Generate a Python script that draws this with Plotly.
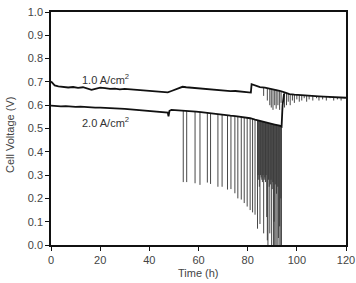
import numpy as np
import plotly.graph_objects as go

# ---- 1.0 A/cm2 curve ----
t1 = [0, 0.5, 1.5, 3, 5, 7, 9, 11, 13, 15,
      16.5, 18, 20, 22, 24, 26, 28, 30, 32, 34,
      36, 38, 40, 42, 44, 46, 47.5, 49, 50.5, 52,
      53.5, 55, 57, 59, 61, 63, 65, 67, 69, 71,
      73, 75, 77, 79, 81, 81.3, 81.6, 83, 85, 87,
      89, 91, 93, 95, 97, 99, 101, 103, 105, 107,
      109, 111, 113, 115, 117, 119, 120]
v1 = [0.702, 0.695, 0.685, 0.681, 0.679, 0.676, 0.678, 0.674, 0.677, 0.672,
      0.666, 0.670, 0.675, 0.673, 0.670, 0.671, 0.668, 0.670, 0.668, 0.666,
      0.664, 0.662, 0.660, 0.661, 0.658, 0.656, 0.655, 0.661, 0.668, 0.674,
      0.679, 0.677, 0.675, 0.673, 0.671, 0.669, 0.668, 0.665, 0.664, 0.662,
      0.660, 0.661, 0.659, 0.657, 0.655, 0.654, 0.690, 0.684, 0.678, 0.675,
      0.671, 0.668, 0.662, 0.655, 0.648, 0.645, 0.643, 0.641, 0.640, 0.639,
      0.638, 0.637, 0.636, 0.636, 0.634, 0.633, 0.632]

# spikes on 1.0 A/cm2 curve (time, minimum voltage)
s1_t = [86.5, 88, 89, 89.6, 90.3, 91, 91.6, 92.3, 93, 93.6,
        95, 95.8, 96.5, 97.3, 98.2, 99, 100, 101, 102, 103,
        104, 105, 106.5, 108, 109, 110.5, 112, 113.5, 115, 116.5,
        118, 119.5]
s1_v = [0.64, 0.62, 0.60, 0.59, 0.58, 0.60, 0.585, 0.60, 0.58, 0.61,
        0.59, 0.60, 0.615, 0.60, 0.62, 0.61, 0.625, 0.615, 0.62, 0.63,
        0.615, 0.625, 0.62, 0.63, 0.62, 0.625, 0.62, 0.63, 0.62, 0.625,
        0.62, 0.63]

# ---- 2.0 A/cm2 curve ----
t2 = [0, 2, 4, 6, 8, 10, 12, 14, 16, 18,
      20, 22, 24, 26, 28, 30, 32, 34, 36, 38,
      40, 42, 44, 46, 47.5, 47.8, 48.2, 49, 51, 53,
      55, 57, 59, 61, 63, 65, 67, 69, 71, 73,
      75, 77, 79, 81, 83, 85, 87, 89, 91, 93,
      93.8, 94.2, 94.8]
v2 = [0.598, 0.596, 0.595, 0.596, 0.594, 0.593, 0.594, 0.592, 0.591, 0.590,
      0.590, 0.588, 0.587, 0.587, 0.585, 0.584, 0.582, 0.581, 0.579, 0.578,
      0.576, 0.575, 0.573, 0.571, 0.568, 0.552, 0.576, 0.580, 0.579, 0.578,
      0.576, 0.574, 0.572, 0.570, 0.567, 0.565, 0.562, 0.560, 0.557, 0.555,
      0.553, 0.551, 0.548, 0.544, 0.538, 0.532, 0.527, 0.522, 0.517, 0.512,
      0.508, 0.600, 0.650]

# spikes on 2.0 A/cm2 curve (time, minimum voltage)
s2_t = [53.8, 55.2, 58.6, 60.6, 63.6, 64.9, 67.9, 69.6, 71.8, 73.2,
        74.8, 76.0, 77.4, 78.6, 79.8, 81.0, 82.0, 83.0,
        84.0, 84.25, 84.5, 84.75, 85.0, 85.25, 85.5, 85.75, 86.0, 86.25,
        86.5, 86.75, 87.0, 87.25, 87.5, 87.75, 88.0, 88.25, 88.5, 88.75,
        89.0, 89.25, 89.5, 89.75, 90.0, 90.25, 90.5, 90.75, 91.0, 91.25,
        91.5, 91.75, 92.0, 92.25, 92.5, 92.75, 93.0, 93.25, 93.5, 93.75]
s2_v = [0.27, 0.27, 0.265, 0.258, 0.268, 0.262, 0.25, 0.25, 0.238, 0.24,
        0.222, 0.20, 0.195, 0.18, 0.165, 0.15, 0.14, 0.13,
        0.07, 0.30, 0.28, 0.25, 0.09, 0.30, 0.29, 0.28, 0.27, 0.30,
        0.05, 0.28, 0.29, 0.27, 0.30, 0.12, 0.02, 0.0, 0.28, 0.25,
        0.05, 0.26, 0.28, 0.0, 0.24, 0.27, 0.0, 0.10, 0.0, 0.26,
        0.0, 0.22, 0.0, 0.25, 0.03, 0.0, 0.08, 0.0, 0.20, 0.0]

x_ticks = [0, 20, 40, 60, 80, 100, 120]
y_ticks = [0.0, 0.1, 0.2, 0.3, 0.4, 0.5, 0.6, 0.7, 0.8, 0.9, 1.0]
labels = ["1.0 A/cm<sup>2</sup>", "2.0 A/cm<sup>2</sup>"]
x_title = "Time (h)"
y_title = "Cell Voltage (V)"


def spike_segments(st, sv, bt, bv):
    xs, ys = [], []
    tops = np.interp(st, bt, bv)
    for t, v, top in zip(st, sv, tops):
        xs += [t, t, None]
        ys += [top, v, None]
    return xs, ys


fig = go.Figure()
sx2, sy2 = spike_segments(s2_t, s2_v, t2, v2)
sx1, sy1 = spike_segments(s1_t, s1_v, t1, v1)
fig.add_trace(go.Scatter(x=sx2, y=sy2, mode="lines",
                         line=dict(color="#333", width=0.9), hoverinfo="skip"))
fig.add_trace(go.Scatter(x=sx1, y=sy1, mode="lines",
                         line=dict(color="#333", width=0.9), hoverinfo="skip"))
fig.add_trace(go.Scatter(x=t2, y=v2, mode="lines",
                         line=dict(color="#111", width=1.8)))
fig.add_trace(go.Scatter(x=t1, y=v1, mode="lines",
                         line=dict(color="#111", width=1.8)))

font_fam = "Liberation Sans, Arial, sans-serif"
fig.add_annotation(x=22, y=0.712, text=labels[0], showarrow=False,
                   font=dict(family=font_fam, size=11, color="#333"))
fig.add_annotation(x=22, y=0.528, text=labels[1], showarrow=False,
                   font=dict(family=font_fam, size=11, color="#333"))
fig.add_annotation(xref="paper", yref="paper", x=0.5, y=0, yanchor="middle",
                   yshift=-28, text=x_title, showarrow=False,
                   font=dict(family=font_fam, size=11, color="#444"))
fig.add_annotation(xref="paper", yref="paper", x=0, y=0.472,
                   xanchor="center", yanchor="middle", xshift=-41,
                   textangle=-90, text=y_title, showarrow=False,
                   font=dict(family=font_fam, size=11, color="#444"))

fig.update_layout(
    width=356, height=283,
    margin=dict(l=51, r=10, t=12, b=38, autoexpand=False),
    paper_bgcolor="white", plot_bgcolor="white",
    showlegend=False,
    font=dict(family=font_fam, size=11, color="#444"),
)
fig.update_xaxes(range=[0, 120], tickvals=x_ticks,
                 ticktext=[str(v) for v in x_ticks],
                 tickfont=dict(size=11, color="#444"), automargin=False,
                 showgrid=False, zeroline=False, showline=True, mirror=True,
                 linecolor="#111", linewidth=1.5, ticks="outside", ticklen=4,
                 tickcolor="#111", tickwidth=1.2)
fig.update_yaxes(range=[0, 1.0], tickvals=y_ticks,
                 ticktext=["%.1f" % v for v in y_ticks],
                 tickfont=dict(size=11, color="#444"), automargin=False,
                 showgrid=False, zeroline=False, showline=True, mirror=True,
                 linecolor="#111", linewidth=1.5, ticks="outside", ticklen=4,
                 tickcolor="#111", tickwidth=1.2)

fig.write_html("out.html")
